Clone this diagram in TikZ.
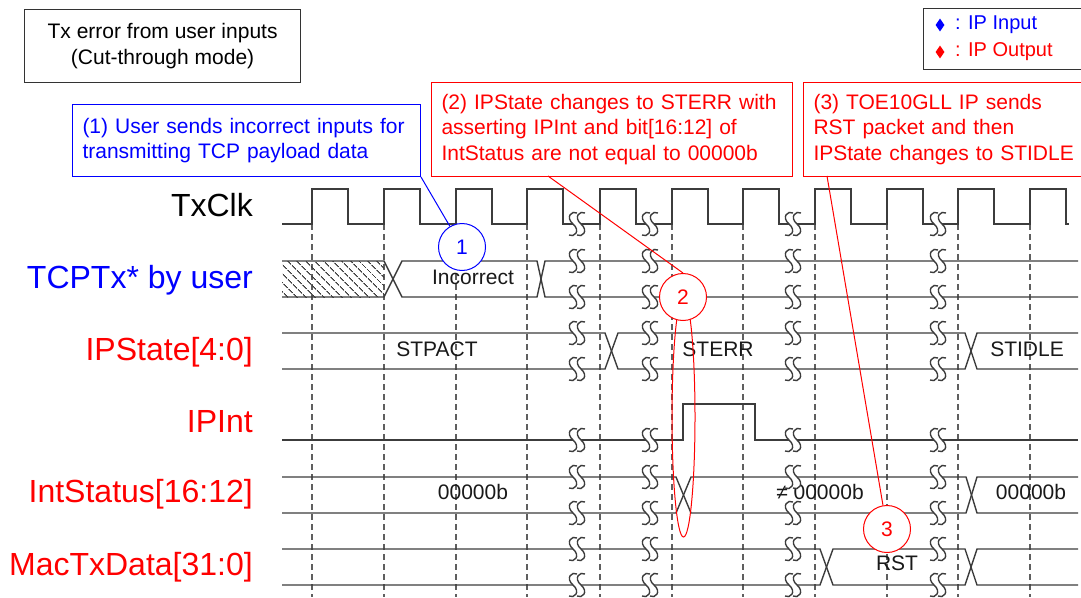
\documentclass[tikz,border=0pt]{standalone}
\usepackage{fontspec}
\setmainfont{Liberation Sans}
\usetikzlibrary{shapes.geometric,patterns.meta}

\definecolor{wavegray}{RGB}{60,60,60}
\definecolor{gridgray}{RGB}{95,95,95}

\tikzset{
  wave/.style={draw=wavegray, line width=1.4pt},
  gridline/.style={draw=gridgray, line width=1.1pt, dash pattern=on 6pt off 4pt},
  signame/.style={anchor=base east, inner sep=0pt, font=\fontsize{32}{36}\selectfont},
  busval/.style={anchor=base, inner sep=0pt, text=black!90, font=\fontsize{21}{24}\selectfont},
  notebox/.style={draw, line width=1pt, anchor=north west, align=left, inner xsep=10pt,
    font=\fontsize{21}{25.5}\selectfont},
  tag/.style={circle, draw, fill=white, line width=1pt, minimum size=47pt, inner sep=0pt,
    font=\fontsize{21}{24}\selectfont},
  legdia/.style={diamond, inner sep=0pt, minimum width=9pt, minimum height=13pt}
}

% break mark: two S strokes with the line cut out between them
\newcommand{\wbreak}[2]{%
  \fill[white] (#1,#2-11) .. controls (#1-5,#2-14) and (#1-12,#2-7) .. (#1-4,#2)
    .. controls (#1+4,#2+7) and (#1-3,#2+14) .. (#1-8,#2+11)
    -- (#1,#2+11) .. controls (#1+5,#2+14) and (#1+12,#2+7) .. (#1+4,#2)
    .. controls (#1-4,#2-7) and (#1+3,#2-14) .. (#1+8,#2-11) -- cycle;
  \draw[wave, line width=1.4pt] (#1,#2-11) .. controls (#1-5,#2-14) and (#1-12,#2-7) .. (#1-4,#2)
    .. controls (#1+4,#2+7) and (#1-3,#2+14) .. (#1-8,#2+11);
  \draw[wave, line width=1.4pt] (#1+8,#2-11) .. controls (#1+3,#2-14) and (#1-4,#2-7) .. (#1+4,#2)
    .. controls (#1+12,#2+7) and (#1+5,#2+14) .. (#1,#2+11);
}

\begin{document}
\begin{tikzpicture}[x=1pt, y=-1pt]
\useasboundingbox (0,0) rectangle (1081,597);

% Title and legend
\node[draw=black!80, line width=1.2pt, anchor=north west, minimum width=276pt, minimum height=73pt,
  align=center, font=\fontsize{21}{25.5}\selectfont] (title) at (24,9)
  {Tx error from user inputs\\(Cut-through mode)};
\node[draw=black!80, line width=1.2pt, anchor=north west, minimum width=172pt, minimum height=61pt] (legend) at (923,8) {};
\node[legdia, fill=blue] (dIn) at (940,25) {};
\node[anchor=west, inner sep=0pt, text=blue, font=\fontsize{20}{24}\selectfont] (tIn) at (955,25) {: IP Input};
\node[legdia, fill=red] (dOut) at (940,52) {};
\node[anchor=west, inner sep=0pt, text=red, font=\fontsize{20}{24}\selectfont] (tOut) at (955,52) {: IP Output};

% Signal names
\node[signame] (nClk) at (253,216) {TxClk};
\node[signame, text=blue] (nTx) at (253,288) {TCPTx* by user};
\node[signame, text=red] (nState) at (253,360) {IPState[4:0]};
\node[signame, text=red] (nInt) at (253,432) {IPInt};
\node[signame, text=red] (nStatus) at (253,502) {IntStatus[16:12]};
\node[signame, text=red] (nMac) at (253,575) {MacTxData[31:0]};

% Clock edges (dashed)
\foreach \r in {312,384,456,527,600,672,743,815,887,958,1030}
  \draw[gridline] (\r,224) -- (\r,597);

% TxClk
\draw[wave] (282,224) \foreach \r in {312,384,456,527,600,672,743,815,887,958,1030}
  { -- (\r,224) -- (\r,189) -- (\r+36,189) -- (\r+36,224) } -- (1069,224);

% TCPTx* by user
\fill[pattern={Lines[angle=-45, distance=6.4pt, line width=1.1pt]}, pattern color=wavegray]
  (282,261) rectangle (384,297);
\draw[wave] (282,261) -- (384,261) -- (402,297) -- (537,297) -- (545,261) -- (1078,261);
\draw[wave] (282,297) -- (384,297) -- (402,261) -- (537,261) -- (545,297) -- (1078,297);
\node[busval] (vTx) at (473,284) {Incorrect};

% IPState
\draw[wave] (282,333) -- (605,333) -- (618,369) -- (965,369) -- (977,333) -- (1078,333);
\draw[wave] (282,369) -- (605,369) -- (618,333) -- (965,333) -- (977,369) -- (1078,369);
\node[busval] (vAct) at (437,356) {STPACT};
\node[busval] (vErr) at (718,356) {STERR};
\node[busval] (vIdle) at (1027,356) {STIDLE};

% IPInt
\draw[wave] (282,440) -- (683,440) -- (683,404) -- (755,404) -- (755,440) -- (1078,440);

% IntStatus
\draw[wave] (282,477) -- (676,477) -- (691,513) -- (966,513) -- (977,477) -- (1078,477);
\draw[wave] (282,513) -- (676,513) -- (691,477) -- (966,477) -- (977,513) -- (1078,513);
\node[busval] (vSt0) at (473,499) {00000b};
\node[busval] (vSt1) at (820,499) {≠ 00000b};
\node[busval] (vSt2) at (1031,499) {00000b};

% MacTxData
\draw[wave] (282,549) -- (820,549) -- (833,585) -- (965,585) -- (977,549) -- (1078,549);
\draw[wave] (282,585) -- (820,585) -- (833,549) -- (965,549) -- (977,585) -- (1078,585);
\node[busval] (vRst) at (897,570) {RST};

% Breaks
\foreach \bx in {577,650,793,938}
  \foreach \by in {224,261,297,333,369,440,477,513,549,585}
    \wbreak{\bx}{\by};

% Callouts
\node[notebox, draw=blue, text=blue, minimum height=72pt, text width=328pt] (box1) at (72,104)
  {(1) User sends incorrect inputs for\\transmitting TCP payload data};
\node[notebox, draw=red, text=red, minimum height=94pt, text width=341pt] (box2) at (431,82)
  {(2) IPState changes to STERR with\\asserting IPInt and bit[16:12] of\\IntStatus are not equal to 00000b};
\node[notebox, draw=red, text=red, minimum height=94pt, text width=280pt] (box3) at (803,82)
  {(3) TOE10GLL IP sends\\RST packet and then\\IPState changes to STIDLE};

\draw[red, line width=1pt] (683.5,417) ellipse [x radius=11.5, y radius=120];

\coordinate (p2) at (548,176);
\coordinate (p3) at (827,176);
\node[tag, draw=blue, text=blue] (c1) at (462,247) {1};
\node[tag, draw=red, text=red] (c2) at (683,297) {2};
\node[tag, draw=red, text=red] (c3) at (887,529) {3};
\draw[blue, line width=1pt] (box1.south east) -- (c1);
\draw[red, line width=1pt] (p2) -- (c2.north);
\draw[red, line width=1pt] (p3) -- (c3);

\end{tikzpicture}
\end{document}
